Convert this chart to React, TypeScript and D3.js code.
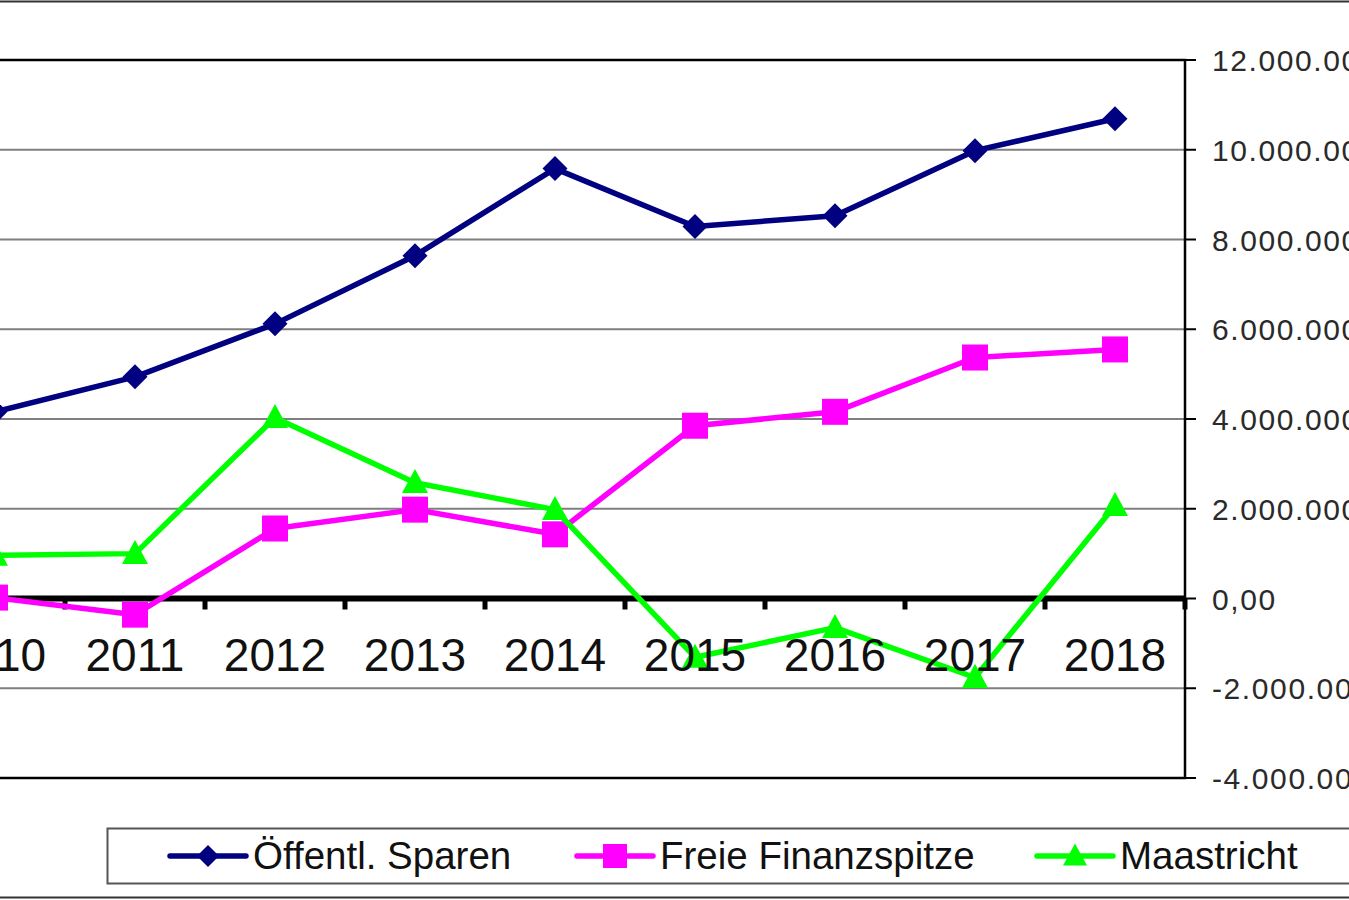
import { useEffect, useRef } from "react";
import * as d3 from "d3";

// values in millions
const years = ["2010", "2011", "2012", "2013", "2014", "2015", "2016", "2017", "2018"];
const oeffentlSparen = [4.16, 4.94, 6.12, 7.64, 9.58, 8.29, 8.53, 9.98, 10.69];
const freieFinanzspitze = [0.02, -0.36, 1.56, 1.98, 1.43, 3.85, 4.16, 5.37, 5.55];
const maastricht = [0.96, 1.0, 4.03, 2.58, 1.98, -1.31, -0.65, -1.76, 2.07];
const yTicks = [12, 10, 8, 6, 4, 2, 0, -2, -4];
const seriesNames = ["Öffentl. Sparen", "Freie Finanzspitze", "Maastricht"];
const seriesColors = ["#000080", "#FF00FF", "#00FF00"];
const seriesMarkers = ["diamond", "square", "triangle"];

const W = 1349;
const H = 900;
const FONT = "'Liberation Sans', Arial, sans-serif";

const App = () => {
  const ref = useRef<SVGSVGElement>(null);

  useEffect(() => {
    if (!ref.current) return;
    const svg = d3.select(ref.current);
    svg.selectAll("*").remove();

    const plotLeft = -75;
    const plotRight = 1185;
    const plotTop = 60;
    const plotBottom = 778;

    const x = d3.scaleBand<string>().domain(years).range([plotLeft, plotRight]);
    const cx = (d: string) => (x(d) ?? 0) + x.bandwidth() / 2;
    const y = d3.scaleLinear().domain([-4, 12]).range([plotBottom, plotTop]);

    // outer chart border (top / bottom visible)
    svg.append("line").attr("x1", 0).attr("x2", W).attr("y1", 1.5).attr("y2", 1.5)
      .attr("stroke", "#333").attr("stroke-width", 2);
    svg.append("line").attr("x1", 0).attr("x2", W).attr("y1", 897.5).attr("y2", 897.5)
      .attr("stroke", "#333").attr("stroke-width", 2);

    // gridlines
    svg.append("g").selectAll("line").data(yTicks.filter((t) => t !== 12 && t !== -4 && t !== 0))
      .enter().append("line")
      .attr("x1", plotLeft).attr("x2", plotRight)
      .attr("y1", (d) => y(d)).attr("y2", (d) => y(d))
      .attr("stroke", "#7f7f7f").attr("stroke-width", 2);

    // plot border
    svg.append("rect")
      .attr("x", plotLeft).attr("y", plotTop)
      .attr("width", plotRight - plotLeft).attr("height", plotBottom - plotTop)
      .attr("fill", "none").attr("stroke", "#000").attr("stroke-width", 2.5);

    // right axis ticks + labels
    const fmt = (v: number) =>
      (v * 1e6).toLocaleString("de-DE", { minimumFractionDigits: 2, maximumFractionDigits: 2 });
    const yAxis = svg.append("g");
    yAxis.selectAll("line").data(yTicks).enter().append("line")
      .attr("x1", plotRight).attr("x2", plotRight + 11)
      .attr("y1", (d) => y(d)).attr("y2", (d) => y(d))
      .attr("stroke", "#000").attr("stroke-width", 2);
    yAxis.selectAll("text").data(yTicks).enter().append("text")
      .attr("x", 1212).attr("y", (d) => y(d) + 11)
      .attr("font-family", FONT).attr("font-size", 30).attr("fill", "#2a2a2a")
      .attr("letter-spacing", 1.6)
      .text((d) => (d === 0 ? "0,00" : fmt(d)));

    // zero axis with ticks between categories
    svg.append("line")
      .attr("x1", plotLeft).attr("x2", plotRight)
      .attr("y1", y(0)).attr("y2", y(0))
      .attr("stroke", "#000").attr("stroke-width", 6);
    svg.append("g").selectAll("line").data(years.slice(1).concat(["end"]))
      .enter().append("line")
      .attr("x1", (d) => (d === "end" ? plotRight : x(d) ?? 0))
      .attr("x2", (d) => (d === "end" ? plotRight : x(d) ?? 0))
      .attr("y1", y(0)).attr("y2", y(0) + 11)
      .attr("stroke", "#000").attr("stroke-width", 5);

    // series
    const allSeries = [oeffentlSparen, freieFinanzspitze, maastricht];
    const line = d3.line<number>().x((_d, i) => cx(years[i])).y((d) => y(d));

    const drawMarker = (g: d3.Selection<SVGGElement, unknown, null, undefined>, kind: string, px: number, py: number, color: string, s: number) => {
      if (kind === "diamond") {
        g.append("path")
          .attr("d", `M${px},${py - s}L${px + s},${py}L${px},${py + s}L${px - s},${py}Z`)
          .attr("fill", color);
      } else if (kind === "square") {
        g.append("rect").attr("x", px - s).attr("y", py - s)
          .attr("width", s * 2).attr("height", s * 2).attr("fill", color);
      } else {
        g.append("path")
          .attr("d", `M${px},${py - s * 1.05}L${px + s},${py + s * 0.8}L${px - s},${py + s * 0.8}Z`)
          .attr("fill", color);
      }
    };

    allSeries.forEach((vals, si) => {
      const g = svg.append("g");
      g.append("path").datum(vals).attr("d", line)
        .attr("fill", "none").attr("stroke", seriesColors[si])
        .attr("stroke-width", 5.5).attr("stroke-linejoin", "round");
      vals.forEach((v, i) => {
        const size = seriesMarkers[si] === "diamond" ? 12.5 : 13;
        drawMarker(g, seriesMarkers[si], cx(years[i]), y(v), seriesColors[si], size);
      });
    });

    // category labels
    svg.append("g").selectAll("text").data(years).enter().append("text")
      .attr("x", (d) => cx(d)).attr("y", 671)
      .attr("text-anchor", "middle")
      .attr("font-family", FONT).attr("font-size", 46).attr("fill", "#111")
      .text((d) => d);

    // legend
    const legend = svg.append("g");
    legend.append("rect")
      .attr("x", 107.5).attr("y", 828.5)
      .attr("width", 1300).attr("height", 55)
      .attr("fill", "#fff").attr("stroke", "#555").attr("stroke-width", 2);
    const legendX = [170, 577, 1037];
    const legendY = 856;
    seriesNames.forEach((name, i) => {
      const lg = legend.append("g");
      lg.append("line")
        .attr("x1", legendX[i]).attr("x2", legendX[i] + 76)
        .attr("y1", legendY).attr("y2", legendY)
        .attr("stroke", seriesColors[i]).attr("stroke-width", 5.5).attr("stroke-linecap", "round");
      drawMarker(lg, seriesMarkers[i], legendX[i] + 38, legendY, seriesColors[i], i === 0 ? 11 : 12);
      lg.append("text")
        .attr("x", legendX[i] + 83).attr("y", legendY + 13)
        .attr("font-family", FONT).attr("font-size", 38.5).attr("fill", "#111")
        .text(name);
    });
  }, []);

  return (
    <svg
      ref={ref}
      width={W}
      height={H}
      style={{ position: "absolute", left: 0, top: 0, background: "#fff" }}
    ></svg>
  );
};

export default App;
